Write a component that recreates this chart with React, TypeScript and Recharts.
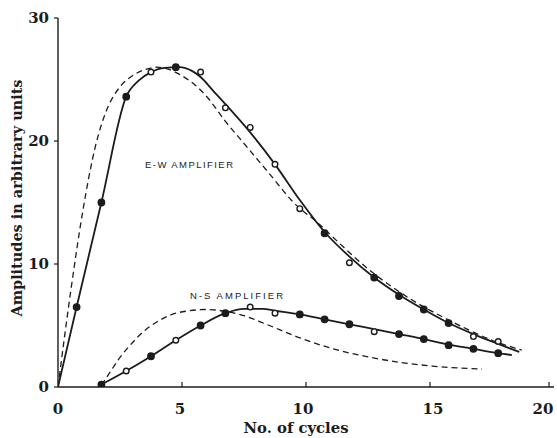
import { ComposedChart, Line, Scatter, XAxis, YAxis } from 'recharts'

// observed points (x = cycles, y = amplitude), 'f' = filled dot, 'o' = open circle
const ewX = [0.75, 1.75, 2.75, 3.75, 4.75, 5.75, 6.75, 7.75, 8.75, 9.75, 10.75, 11.75, 12.75, 13.75, 14.75, 15.75, 16.75, 17.75]
const ewY = [6.5, 15, 23.6, 25.6, 26, 25.6, 22.7, 21.1, 18.1, 14.5, 12.5, 10.1, 8.9, 7.4, 6.3, 5.2, 4.1, 3.7]
const ewMark = ['f', 'f', 'f', 'o', 'f', 'o', 'o', 'o', 'o', 'o', 'f', 'o', 'f', 'f', 'f', 'f', 'o', 'o']

const nsX = [1.75, 2.75, 3.75, 4.75, 5.75, 6.75, 7.75, 8.75, 9.75, 10.75, 11.75, 12.75, 13.75, 14.75, 15.75, 16.75, 17.75]
const nsY = [0.2, 1.3, 2.5, 3.8, 5.0, 6.0, 6.5, 6.0, 5.9, 5.5, 5.1, 4.5, 4.3, 3.9, 3.4, 3.1, 2.75]
const nsMark = ['f', 'o', 'f', 'o', 'f', 'f', 'o', 'o', 'f', 'f', 'f', 'o', 'f', 'f', 'f', 'f', 'f']

// drawn solid curves through the observations
const ewFitX = [0, 0.75, 1.75, 2.75, 3.25, 3.75, 4.3, 4.9, 5.4, 5.75, 6.25, 6.75, 7.75, 8.75, 9.75, 10.75, 11.75, 12.75, 13.75, 14.75, 15.75, 16.75, 17.75, 18.6]
const ewFitY = [0, 6.5, 15, 23.6, 24.9, 25.6, 25.95, 26.0, 25.7, 25.2, 24.1, 23.0, 20.7, 18.1, 15.2, 12.6, 10.6, 8.9, 7.5, 6.3, 5.2, 4.3, 3.5, 2.85]

const nsFitX = [1.75, 2.75, 3.75, 4.75, 5.75, 6.75, 7.5, 8.25, 8.75, 9.75, 10.75, 11.75, 12.75, 13.75, 14.75, 15.75, 16.75, 17.75, 18.3]
const nsFitY = [0.2, 1.3, 2.5, 3.8, 5.0, 6.0, 6.35, 6.35, 6.2, 5.9, 5.5, 5.1, 4.7, 4.3, 3.9, 3.45, 3.1, 2.75, 2.6]

// dashed (calculated) curves
const ewCalcX = [0, 0.5, 1.0, 1.5, 2.0, 2.5, 3.0, 3.5, 4.0, 4.5, 5.0, 5.5, 6.0, 6.75, 7.5, 8.5, 9.5, 10.5, 11.5, 12.5, 13.5, 14.5, 15.5, 16.5, 17.5, 18.7]
const ewCalcY = [0, 7.6, 14.3, 19.5, 22.7, 24.4, 25.3, 25.8, 26.0, 25.8, 25.3, 24.6, 23.6, 21.6, 19.8, 17.4, 15.0, 13.3, 11.4, 9.6, 8.1, 6.8, 5.7, 4.7, 3.8, 3.0]

const nsCalcX = [1.75, 2.0, 2.5, 3.0, 3.5, 4.0, 4.6, 5.3, 6.0, 6.75, 7.5, 8.4, 9.75, 11.1, 12.5, 13.8, 15.1, 17.1]
const nsCalcY = [0.15, 0.9, 2.4, 3.6, 4.6, 5.3, 5.9, 6.2, 6.3, 6.15, 5.8, 5.1, 4.0, 3.1, 2.45, 2.0, 1.7, 1.45]

const xTicks = [0, 5, 10, 15, 20]
const yTicks = [0, 10, 20, 30]

const zip = (xs: number[], ys: number[], ms?: string[]) =>
  xs.map((x, i) => ({ x, y: ys[i], m: ms ? ms[i] : 'f' }))

const INK = '#1c1c1c'
const SERIF = '"DejaVu Serif", "Liberation Serif", serif'
const SANS = '"Liberation Sans", Arial, sans-serif'

function Dot(props: any) {
  const { cx, cy, payload } = props
  if (cx == null || cy == null) return null
  const open = payload.m === 'o'
  return <circle cx={cx} cy={cy} r={open ? 2.8 : 3.2} fill={open ? '#fff' : INK} stroke={INK} strokeWidth={1.4} />
}

function XTick({ x, y, payload }: any) {
  const nudge: Record<number, number> = { 0: 0, 5: -2, 10: -3, 15: 3, 20: -6 }
  return (
    <g>
      {payload.value > 0 && <line x1={x} y1={y} x2={x} y2={y - 5} stroke={INK} strokeWidth={1.2} />}
      <text x={x + (nudge[payload.value] ?? 0)} y={y + 27} textAnchor="middle" fontFamily={SERIF} fontWeight="bold" fontSize={15} fill={INK}>
        {payload.value}
      </text>
    </g>
  )
}

function YTick({ x, y, payload }: any) {
  return (
    <g>
      <line x1={x - 4} y1={y} x2={x} y2={y} stroke={INK} strokeWidth={1.2} />
      <text x={x - 9} y={y + 5} textAnchor="end" fontFamily={SERIF} fontWeight="bold" fontSize={15} fill={INK}>
        {payload.value}
      </text>
    </g>
  )
}

export default function App() {
  return (
    <div style={{ position: 'absolute', left: 0, top: 0, width: 557, height: 438, background: '#fff' }}>
      <ComposedChart width={557} height={438} margin={{ top: 18, right: 3, left: 0, bottom: 0 }}>
        <XAxis
          type="number"
          dataKey="x"
          domain={[0, 20]}
          ticks={xTicks}
          allowDataOverflow
          height={51}
          tickSize={0}
          tickMargin={0}
          tickLine={false}
          axisLine={{ stroke: INK, strokeWidth: 1.4 }}
          tick={<XTick />}
        />
        <YAxis
          type="number"
          dataKey="y"
          domain={[0, 30]}
          ticks={yTicks}
          allowDataOverflow
          width={58}
          tickSize={0}
          tickMargin={0}
          tickLine={false}
          axisLine={{ stroke: INK, strokeWidth: 1.4 }}
          tick={<YTick />}
        />
        <Line data={zip(ewCalcX, ewCalcY)} dataKey="y" type="monotone" stroke={INK} strokeWidth={1.3} strokeDasharray="6 4" dot={false} isAnimationActive={false} />
        <Line data={zip(nsCalcX, nsCalcY)} dataKey="y" type="monotone" stroke={INK} strokeWidth={1.3} strokeDasharray="6 4" dot={false} isAnimationActive={false} />
        <Line data={zip(ewFitX, ewFitY)} dataKey="y" type="monotone" stroke={INK} strokeWidth={1.8} dot={false} isAnimationActive={false} />
        <Line data={zip(nsFitX, nsFitY)} dataKey="y" type="monotone" stroke={INK} strokeWidth={1.8} dot={false} isAnimationActive={false} />
        <Scatter data={zip(ewX, ewY, ewMark)} dataKey="y" shape={<Dot />} isAnimationActive={false} />
        <Scatter data={zip(nsX, nsY, nsMark)} dataKey="y" shape={<Dot />} isAnimationActive={false} />
        <text x={145} y={168} textLength={88} lengthAdjust="spacing" fontFamily={SANS} fontSize={9.5} fill={INK}>E-W AMPLIFIER</text>
        <text x={190} y={299} textLength={93} lengthAdjust="spacing" fontFamily={SANS} fontSize={9.5} fill={INK}>N-S AMPLIFIER</text>
        <text x={296} y={433} textAnchor="middle" textLength={105} lengthAdjust="spacingAndGlyphs" fontFamily={SERIF} fontWeight="bold" fontSize={14} fill={INK}>No. of cycles</text>
        <text x={22} y={198} transform="rotate(-90 22 198)" textAnchor="middle" textLength={237} lengthAdjust="spacingAndGlyphs" fontFamily={SERIF} fontWeight="bold" fontSize={14} fill={INK}>Amplitudes in arbitrary units</text>
      </ComposedChart>
    </div>
  )
}
